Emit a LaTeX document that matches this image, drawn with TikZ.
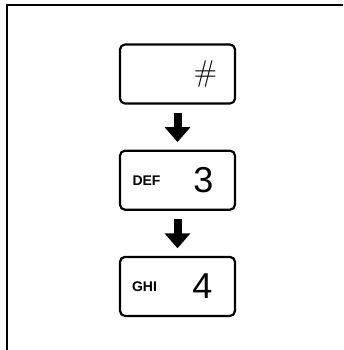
\documentclass[tikz,border=0pt]{standalone}
\usepackage{fontspec}
\setsansfont{Liberation Sans}
\usetikzlibrary{positioning,arrows.meta}

\begin{document}
\begin{tikzpicture}[x=1pt, y=-1pt, node distance=45pt,
  keybox/.style={draw, line width=2.2pt, rounded corners=5pt, minimum width=115pt, minimum height=59pt, inner sep=0pt},
  letters/.style={font=\sffamily\bfseries\fontsize{14}{14}\selectfont, inner sep=0pt},
  digit/.style={font=\sffamily\fontsize{36}{36}\selectfont, inner sep=0pt},
  arr/.style={line width=8pt, -{Triangle[length=15pt, width=25pt]}, shorten <=8.5pt, shorten >=7.5pt}]
\useasboundingbox (0,0) rectangle (343,350);
\draw[line width=1.8pt] (7,350) |- (343,5);
\node[keybox] (hash) at (177.5,74) {};
\node[keybox, below=of hash] (def) {};
\node[keybox, below=of def] (ghi) {};
\node[inner sep=0pt, font=\fontsize{30}{30}\selectfont] (hashsign) at ([xshift=28pt]hash.center) {\#};
\node[letters] (deftext) at ([xshift=-31pt]def.center) {DEF};
\node[digit] (three) at ([xshift=26pt]def.center) {3};
\node[letters] (ghitext) at ([xshift=-33pt]ghi.center) {GHI};
\node[digit] (four) at ([xshift=25pt]ghi.center) {4};
\draw[arr] (hash) -- (def); \draw[arr] (def) -- (ghi);
\end{tikzpicture}
\end{document}
